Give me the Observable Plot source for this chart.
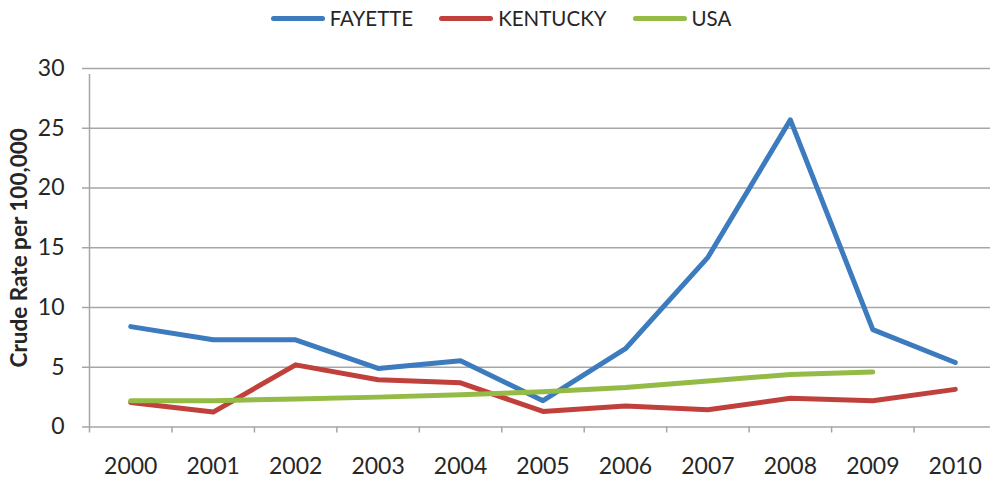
<!DOCTYPE html>
<html>
<head>
<meta charset="utf-8">
<script src="https://cdn.jsdelivr.net/npm/d3@7"></script>
<script src="https://cdn.jsdelivr.net/npm/@observablehq/plot@0.6"></script>
<style>
  html, body { margin: 0; padding: 0; background: #fff; overflow: hidden; }
  body { width: 990px; height: 480px; font-family: Lato, "Open Sans", sans-serif; color: #262626; }
  #legend { height: 36px; display: flex; justify-content: center; align-items: center; padding-left: 12px; font-size: 20.5px; }
  .item { display: flex; align-items: center; margin: 0 13px; }
  .sw { width: 54px; height: 5px; border-radius: 3px; margin-right: 5px; }
  svg { display: block; }
</style>
</head>
<body>
<div id="legend"></div>
<div id="chart"></div>
<script>
const years = [2000, 2001, 2002, 2003, 2004, 2005, 2006, 2007, 2008, 2009, 2010];
const fayette = [8.4, 7.3, 7.3, 4.9, 5.55, 2.2, 6.55, 14.2, 25.7, 8.15, 5.4];
const kentucky = [2.05, 1.25, 5.2, 3.95, 3.7, 1.3, 1.75, 1.45, 2.4, 2.2, 3.15];
const usa = [2.2, 2.2, 2.35, 2.5, 2.7, 2.95, 3.3, 3.85, 4.4, 4.6, null];
const seriesNames = ["FAYETTE", "KENTUCKY", "USA"];
const seriesColors = ["#3d7bbf", "#c0403c", "#94bb46"];
const yTicks = [0, 5, 10, 15, 20, 25, 30];
const yTitle = "Crude Rate per 100,000";

const seriesValues = [fayette, kentucky, usa];
const data = [];
seriesNames.forEach((name, i) => {
  years.forEach((yr, j) => {
    data.push({series: name, year: yr, value: seriesValues[i][j]});
  });
});
const boundaries = years.map(y => y - 0.5).concat([years[years.length - 1] + 0.5]);

const legend = document.getElementById("legend");
seriesNames.forEach((n, i) => {
  const it = document.createElement("div");
  it.className = "item";
  it.innerHTML = `<div class="sw" style="background:${seriesColors[i]}"></div><span>${n}</span>`;
  legend.appendChild(it);
});

const grid = "#a6a6a6";
const chart = Plot.plot({
  width: 990,
  height: 444,
  marginTop: 32,
  marginBottom: 53.5,
  marginLeft: 89,
  marginRight: 0,
  style: {fontFamily: "Lato, 'Open Sans', sans-serif", fontSize: "23px", color: "#262626", background: "#fff"},
  x: {type: "linear", domain: [boundaries[0], boundaries[boundaries.length - 1]], range: [89, 996]},
  y: {domain: [0, 30]},
  color: {domain: seriesNames, range: seriesColors},
  marks: [
    Plot.gridY(yTicks, {stroke: grid, strokeOpacity: 1, strokeWidth: 1.5}),
    Plot.ruleX([boundaries[0]], {y1: 0, y2: 30, stroke: grid, strokeWidth: 1.5, insetBottom: -6}),
    Plot.axisY(yTicks, {tickSize: 7, tickPadding: 18, stroke: grid, strokeWidth: 1.5, label: null, fill: "#262626"}),
    Plot.axisX(boundaries, {tickSize: 6, tickFormat: () => "", stroke: grid, strokeWidth: 1.5, label: null}),
    Plot.axisX(years, {tickSize: 0, tickPadding: 31, tickFormat: d => String(d), label: null, fill: "#262626"}),
    Plot.text([yTitle], {frameAnchor: "left", textAnchor: "middle", rotate: -90, dx: -70, dy: 0, fontWeight: "bold", fontSize: 22.5, fill: "#262626"}),
    Plot.line(data.filter(d => d.value != null), {x: "year", y: "value", z: "series", stroke: "series", strokeWidth: 5, strokeLinejoin: "round", strokeLinecap: "round"})
  ]
});
document.getElementById("chart").appendChild(chart);
</script>
</body>
</html>
